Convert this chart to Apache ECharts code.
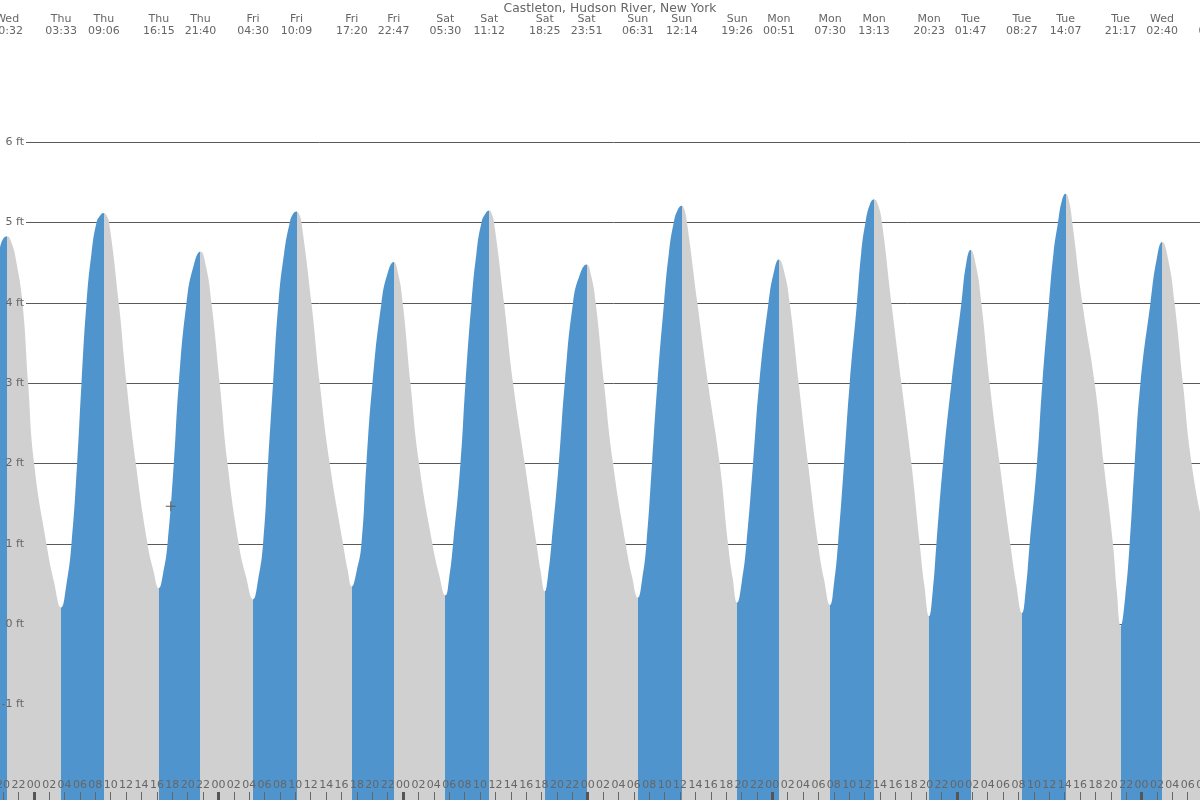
<!DOCTYPE html>
<html><head><meta charset="utf-8">
<script src="https://cdn.jsdelivr.net/npm/echarts@6/dist/echarts.min.js"></script>
<style>html,body{margin:0;padding:0;background:#fff}#c{width:1200px;height:800px}</style>
</head><body><div id="c"></div>
<script>
// ---------------- data ----------------
const titleText = 'Castleton, Hudson River, New York';

// tide extremes (top labels), alternating high / low
const extremeLabels = ['Wed 20:32','Thu 03:33','Thu 09:06','Thu 16:15','Thu 21:40','Fri 04:30','Fri 10:09',
  'Fri 17:20','Fri 22:47','Sat 05:30','Sat 11:12','Sat 18:25','Sat 23:51','Sun 06:31','Sun 12:14',
  'Sun 19:26','Mon 00:51','Mon 07:30','Mon 13:13','Mon 20:23','Tue 01:47','Tue 08:27','Tue 14:07',
  'Tue 21:17','Wed 02:40','Wed 09:27'];
const extremeTypes = ['H','L','H','L','H','L','H','L','H','L','H','L','H','L','H','L','H','L','H','L','H','L','H','L','H','L'];

// tide curve: hours since Thu 00:00, height in ft
const tideHours = [
  -9.62,-8.65,-7.67,-6.89,-6.24,-5.33,-4.42,-3.47,-2.86,-2.25,-1.47,-0.74,0.04,1.65,2.60,
  3.55,4.23,4.90,5.63,6.20,6.85,7.50,8.15,8.63,9.10,9.45,9.79,11.05,12.05,13.26,14.78,15.52,
  16.25,16.82,17.38,18.20,18.85,19.85,20.76,21.67,22.39,23.10,24.17,25.18,26.64,27.57,
  28.50,29.15,29.80,30.45,31.10,31.80,32.54,33.27,33.71,34.15,34.47,34.79,36.09,37.17,38.47,40.20,40.77,
  41.33,41.96,42.59,43.24,44.02,45.19,45.99,46.78,47.37,47.96,48.96,50.08,51.82,52.66,
  53.50,54.00,54.50,55.46,56.11,56.89,57.54,58.19,58.70,59.20,59.52,59.83,61.13,62.30,63.82,65.34,65.88,
  66.42,66.86,67.29,68.24,69.02,70.09,70.97,71.85,72.45,73.04,74.12,75.29,76.94,77.73,
  78.52,79.08,79.63,80.36,81.06,81.92,82.55,83.18,83.71,84.23,84.57,84.91,86.26,87.64,89.16,90.24,90.84,
  91.43,92.03,92.63,93.49,94.30,95.50,96.21,96.85,97.56,98.26,99.43,100.64,101.94,102.72,
  103.50,104.02,104.54,105.32,106.06,107.00,107.55,108.10,108.66,109.22,109.74,110.25,111.48,112.78,114.08,115.16,115.77,
  116.38,116.86,117.33,118.19,119.28,120.58,121.18,121.78,122.48,123.17,124.25,125.55,126.94,127.70,
  128.45,128.95,129.45,130.40,131.10,131.96,132.55,133.13,133.63,134.12,134.56,135.00,136.30,137.90,139.07,140.28,140.78,
  141.28,141.87,142.45,143.10,143.85,145.15,145.97,146.67,147.48,148.29,149.37,150.50,152.30,152.88,153.45];
const tideFeet = [
  0.30,0.55,1,2,3,4,4.68,4.83,4.74,4.5,4,3,2,1,0.54,
  0.21,0.49,1,2,3,4,4.62,5,5.09,5.12,5.09,5,4,3,2,1,0.68,
  0.45,0.64,1,2,3,4,4.46,4.64,4.45,4,3,2,1,0.60,
  0.31,0.55,1,2,3,4,4.62,5,5.11,5.14,5.11,5,4,3,2,1,0.69,
  0.47,0.66,1,2,3,4,4.37,4.51,4.36,4,3,2,1,0.63,
  0.36,0.58,1,2,3,4,4.62,5,5.11,5.15,5.11,5,4,3,2,1,0.66,
  0.41,0.62,1,2,3,4,4.35,4.48,4.34,4,3,2,1,0.61,
  0.33,0.56,1,2,3,4,4.62,5,5.16,5.21,5.16,5,4,3,2,1,0.58,
  0.27,0.53,1,2,3,4,4.39,4.54,4.38,4,3,2,1,0.56,
  0.24,0.51,1,2,3,4,4.62,5,5.22,5.29,5.22,5,4,3,2,1,0.48,
  0.10,0.42,1,2,3,4,4.48,4.66,4.46,4,3,2,1,0.50,
  0.14,0.44,1,2,3,4,4.62,5,5.27,5.36,5.27,5,4,3,2,1,0.41,
  -0.02,0.34,1,2,3,4,4.55,4.76,4.53,4,3,2,1,0.54,0.20];

const nowMarker = [17.8, 1.47];
const yTickValues = [-1,0,1,2,3,4,5,6];

// ---------------- layout ----------------
const PX_PER_H = 7.693, X0 = 33.8, EXT = 20;
const xMin = -(X0 + EXT) / PX_PER_H, xMax = (1200 + EXT - X0) / PX_PER_H;
const PX_PER_FT = 80.33, TOP = 142.3;
const H0 = 800 - TOP;
const yMin0 = 6 - H0 / PX_PER_FT;

const BLUE = '#4f94cd', GREY = '#d0d0d0', TXT = '#666';
const FONT = 'DejaVu Sans';

let day = -1, prevDay = 'Wed';
const extremeHours = extremeLabels.map(s => {
  const [d, t] = s.split(' ');
  if (d !== prevDay) { day++; prevDay = d; }
  const [hh, mm] = t.split(':').map(Number);
  return day * 24 + hh + mm / 60;
});

const pieces = [{ lt: extremeHours[0], color: extremeTypes[0] === 'H' ? BLUE : GREY }];
for (let i = 0; i < extremeHours.length - 1; i++) {
  pieces.push({ gte: extremeHours[i], lt: extremeHours[i + 1], color: extremeTypes[i] === 'L' ? BLUE : GREY });
}
pieces.push({ gte: extremeHours[extremeHours.length - 1], color: extremeTypes[extremeTypes.length - 1] === 'L' ? BLUE : GREY });

const hourTicks = [];
for (let h = Math.ceil(xMin / 2) * 2; h <= xMax; h += 2) hourTicks.push(h);
const midnightTicks = [];
for (let h = Math.ceil(xMin / 24) * 24; h <= xMax; h += 24) midnightTicks.push(h);

const curve = tideHours.map((h, i) => [h, tideFeet[i]]);

const G = { outerBoundsMode: 'none', containLabel: false };
const chart = echarts.init(document.getElementById('c'), null, { renderer: 'canvas' });
chart.setOption({
  animation: false,
  backgroundColor: '#fff',
  title: {
    text: titleText, left: 605, textAlign: 'center', top: -2,
    textStyle: { fontFamily: FONT, fontSize: 12.3, fontWeight: 'normal', color: TXT }
  },
  grid: [
    Object.assign({ left: -EXT, width: 1200 + 2 * EXT, top: TOP, height: H0 }, G),
    Object.assign({ left: 26, width: 1200 + EXT - 26, top: TOP, height: 8 * PX_PER_FT }, G),
    Object.assign({ left: -EXT, width: 1200 + 2 * EXT, top: 0, height: 792 }, G),
    Object.assign({ left: -EXT, width: 1200 + 2 * EXT, top: 0, height: 792 }, G)
  ],
  xAxis: [
    { gridIndex: 0, type: 'value', min: xMin, max: xMax, show: false },
    { gridIndex: 0, type: 'value', position: 'top', min: xMin, max: xMax, z: 10,
      axisLine: { show: false }, axisTick: { show: false }, splitLine: { show: false },
      axisLabel: {
        customValues: extremeHours, margin: 105, verticalAlign: 'bottom', lineHeight: 12,
        fontFamily: FONT, fontSize: 11, color: TXT, hideOverlap: false,
        formatter: v => {
          let best = 0;
          extremeHours.forEach((h, i) => { if (Math.abs(h - v) < Math.abs(extremeHours[best] - v)) best = i; });
          const [d, t] = extremeLabels[best].split(' ');
          return d + '\n' + t;
        }
      } },
    { gridIndex: 1, type: 'value', min: 0, max: 1, show: false },
    { gridIndex: 2, type: 'value', position: 'bottom', min: xMin, max: xMax, z: 10,
      axisLine: { show: false }, splitLine: { show: false },
      axisTick: { show: true, customValues: hourTicks, length: 8, inside: false, lineStyle: { color: '#666', width: 1 } },
      axisLabel: {
        customValues: hourTicks, inside: true, margin: 7, verticalAlign: 'middle',
        fontFamily: FONT, fontSize: 11, color: TXT, hideOverlap: false,
        formatter: v => { const m = ((Math.round(v) % 24) + 24) % 24; return (m < 10 ? '0' : '') + m; }
      } },
    { gridIndex: 3, type: 'value', position: 'bottom', min: xMin, max: xMax, z: 11,
      axisLine: { show: false }, splitLine: { show: false }, axisLabel: { show: false },
      axisTick: { show: true, customValues: midnightTicks, length: 8, inside: false, lineStyle: { color: '#555', width: 3 } } }
  ],
  yAxis: [
    { gridIndex: 0, type: 'value', min: yMin0, max: 6, z: 10,
      axisLine: { show: false }, axisTick: { show: false }, splitLine: { show: false },
      axisLabel: {
        customValues: yTickValues, inside: true, align: 'right', margin: EXT + 24, verticalAlign: 'middle',
        fontFamily: FONT, fontSize: 11, color: TXT, formatter: v => v + ' ft'
      } },
    { gridIndex: 1, type: 'value', min: -2, max: 6, interval: 1, z: 0,
      axisLine: { show: false }, axisTick: { show: false }, axisLabel: { show: false },
      splitLine: { show: true, lineStyle: { color: '#5a5a5a', width: 1 } } },
    { gridIndex: 2, type: 'value', min: 0, max: 1, show: false },
    { gridIndex: 3, type: 'value', min: 0, max: 1, show: false }
  ],
  visualMap: {
    type: 'piecewise', show: false, dimension: 0, seriesIndex: [0], pieces: pieces
  },
  series: [
    { type: 'line', xAxisIndex: 0, yAxisIndex: 0, data: curve, smooth: 0.5, symbol: 'none',
      silent: true, z: 2,
      lineStyle: { width: 0 },
      areaStyle: { opacity: 1, origin: 'start' } },
    { type: 'scatter', xAxisIndex: 0, yAxisIndex: 0, data: [nowMarker], silent: true, z: 5,
      symbol: 'path://M4.5,0h1v10h-1z M0,4.5h10v1h-10z', symbolSize: 10,
      itemStyle: { color: '#5c5c5c', borderWidth: 0, opacity: 1 } }
  ]
});
</script>
</body></html>
